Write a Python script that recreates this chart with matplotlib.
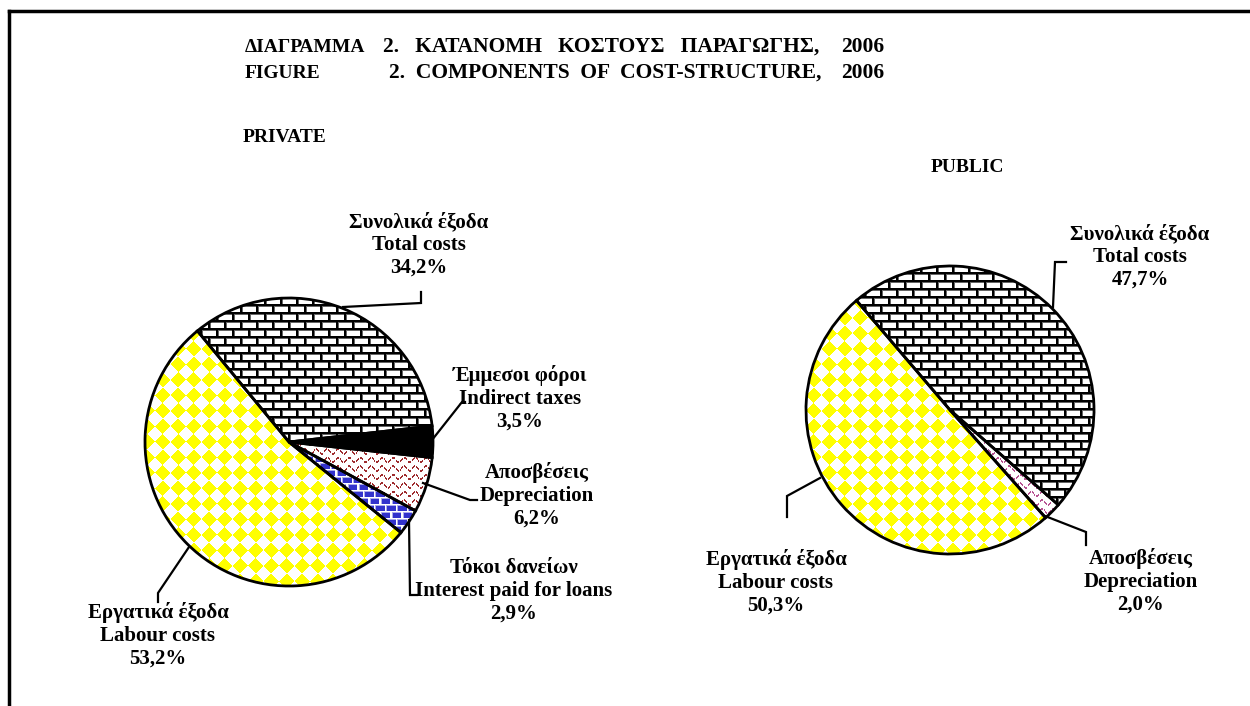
import numpy as np
import matplotlib
matplotlib.use("Agg")
import matplotlib.pyplot as plt

W, H = 1250, 706

# data
private_greek = ["Εργατικά έξοδα", "Τόκοι δανείων", "Αποσβέσεις", "Έμμεσοι φόροι", "Συνολικά έξοδα"]
private_eng = ["Labour costs", "Interest paid for loans", "Depreciation", "Indirect taxes", "Total costs"]
private_vals = [53.2, 2.9, 6.2, 3.5, 34.2]

public_greek = ["Εργατικά έξοδα", "Αποσβέσεις", "Συνολικά έξοδα"]
public_eng = ["Labour costs", "Depreciation", "Total costs"]
public_vals = [50.3, 2.0, 47.7]

title_gr = ["ΔΙΑΓΡΑΜΜΑ", "2.   ΚΑΤΑΝΟΜΗ   ΚΟΣΤΟΥΣ   ΠΑΡΑΓΩΓΗΣ,", "2006"]
title_en = ["FIGURE", "2.  COMPONENTS  OF  COST-STRUCTURE,", "2006"]

FONT = dict(family="Liberation Serif", weight="bold")


def Y(y):
    # image-style y (from top) -> axes y
    return H - y


# ---------- fill patterns ----------
def bricks(X, Yi, fg, bg, bw=16.0, bh=8.0, lw=2.0):
    row = np.floor(Yi / bh)
    yy = np.mod(Yi, bh)
    xx = np.mod(X + (row % 2) * bw / 2, bw)
    img = np.ones(X.shape + (3,)) * np.array(bg)
    edge = (yy < lw + 1) | (xx < lw + 1)
    img[edge] = 0.6 * np.array(fg) + 0.4 * np.array(bg)
    mortar = (yy < lw) | (xx < lw)
    img[mortar] = fg
    return img


def diamonds(X, Yi, color, p=15.5):
    u = np.mod(X, p) - p / 2
    v = np.mod(Yi, p) - p / 2
    img = np.ones(X.shape + (3,))
    img[np.abs(u) + np.abs(v) < 0.49 * p] = color
    return img


def waves(X, Yi, color, px=11.0, sp=8.5, amp=2.4, th=2.0):
    d = np.mod(Yi - amp * np.sin(2 * np.pi * X / px), sp)
    img = np.ones(X.shape + (3,))
    img[(d < th) & (np.mod(X, 4) < 3)] = color
    return img


def solid(X, Yi, color):
    return np.ones(X.shape + (3,)) * np.array(color)


BLACK = (0, 0, 0)
WHITE = (1, 1, 1)
YELLOW = (1, 1, 0)
BLUE = (0.2, 0.2, 0.8)
DRED = (0.62, 0.17, 0.18)
PINK = (0.72, 0.33, 0.58)


def pattern_pie(ax, vals, cx, cy, r, start, fills):
    wedges, _ = ax.pie(vals, center=(cx, Y(cy)), radius=r, startangle=start,
                       counterclock=True,
                       wedgeprops=dict(edgecolor="black", linewidth=2, facecolor="none"))
    xs = np.arange(cx - r - 2, cx + r + 2) + 0.5
    ys = np.arange(cy - r - 2, cy + r + 2) + 0.5
    X, Yi = np.meshgrid(xs, ys)
    for w, f in zip(wedges, fills):
        w.set_zorder(3)
        img = f(X, Yi)
        im = ax.imshow(img, extent=(xs[0] - 0.5, xs[-1] + 0.5, Y(ys[-1] + 0.5), Y(ys[0] - 0.5)),
                       origin="upper", interpolation="nearest", zorder=2)
        im.set_clip_path(w)
    return wedges


def label(ax, x, y, greek, eng, val):
    txt = f"{greek}\n{eng}\n{val:.1f}%".replace(".", ",")
    ax.text(x, Y(y), txt, ha="center", va="top", fontsize=15, linespacing=1.17, **FONT)


def leader(ax, pts):
    ax.plot([p[0] for p in pts], [Y(p[1]) for p in pts], color="black", lw=1.6,
            solid_joinstyle="miter", zorder=4)


fig = plt.figure(figsize=(W / 100, H / 100), dpi=100)
ax = fig.add_axes([0, 0, 1, 1])

# private pie
pattern_pie(ax, private_vals, 289, 442, 144, 129.5, [
    lambda X, Yi: diamonds(X, Yi, YELLOW),
    lambda X, Yi: bricks(X, Yi, WHITE, BLUE, bw=11, bh=7, lw=1.5),
    lambda X, Yi: waves(X, Yi, DRED),
    lambda X, Yi: solid(X, Yi, BLACK),
    lambda X, Yi: bricks(X, Yi, BLACK, WHITE),
])

# public pie
pattern_pie(ax, public_vals, 950, 410, 144, 130.5, [
    lambda X, Yi: diamonds(X, Yi, YELLOW),
    lambda X, Yi: waves(X, Yi, PINK),
    lambda X, Yi: bricks(X, Yi, BLACK, WHITE),
])

# labels private
label(ax, 158, 602, private_greek[0], private_eng[0], private_vals[0])
label(ax, 514, 558, private_greek[1], private_eng[1], private_vals[1])
label(ax, 537, 462, private_greek[2], private_eng[2], private_vals[2])
label(ax, 520, 365, private_greek[3], private_eng[3], private_vals[3])
label(ax, 419, 212, private_greek[4], private_eng[4], private_vals[4])

# labels public
label(ax, 776, 549, public_greek[0], public_eng[0], public_vals[0])
label(ax, 1141, 548, public_greek[1], public_eng[1], public_vals[1])
label(ax, 1140, 224, public_greek[2], public_eng[2], public_vals[2])

# leader lines
leader(ax, [(189, 547), (158, 593), (158, 602)])
leader(ax, [(409, 520), (410, 595), (417, 595)])
leader(ax, [(423, 483), (470, 500), (477, 500)])
leader(ax, [(432, 440), (462, 402), (465, 402)])
leader(ax, [(343, 307), (421, 303), (421, 292)])
leader(ax, [(820, 478), (787, 496), (787, 517)])
leader(ax, [(1045, 516), (1086, 532), (1086, 545)])
leader(ax, [(1053, 307), (1055, 262), (1066, 262)])

# headings
ax.text(245, Y(47), title_gr[0], ha="left", va="center", fontsize=14, **FONT)
ax.text(383, Y(47), title_gr[1], ha="left", va="center", fontsize=15.5, **FONT)
ax.text(884, Y(47), title_gr[2], ha="right", va="center", fontsize=15.5, **FONT)
ax.text(245, Y(73), title_en[0], ha="left", va="center", fontsize=14, **FONT)
ax.text(389, Y(73), title_en[1], ha="left", va="center", fontsize=15.5, **FONT)
ax.text(884, Y(73), title_en[2], ha="right", va="center", fontsize=15.5, **FONT)
ax.text(243, Y(137), "PRIVATE", ha="left", va="center", fontsize=14, **FONT)
ax.text(931, Y(168), "PUBLIC", ha="left", va="center", fontsize=14, **FONT)

# frame lines (top and left)
ax.plot([9, W], [Y(11), Y(11)], color="black", lw=2.5)
ax.plot([9, 9], [Y(11), 0], color="black", lw=2.5)

ax.set_xlim(0, W)
ax.set_ylim(0, H)
ax.set_aspect("auto")
ax.axis("off")

fig.savefig("out.png", dpi=100, facecolor="white")
